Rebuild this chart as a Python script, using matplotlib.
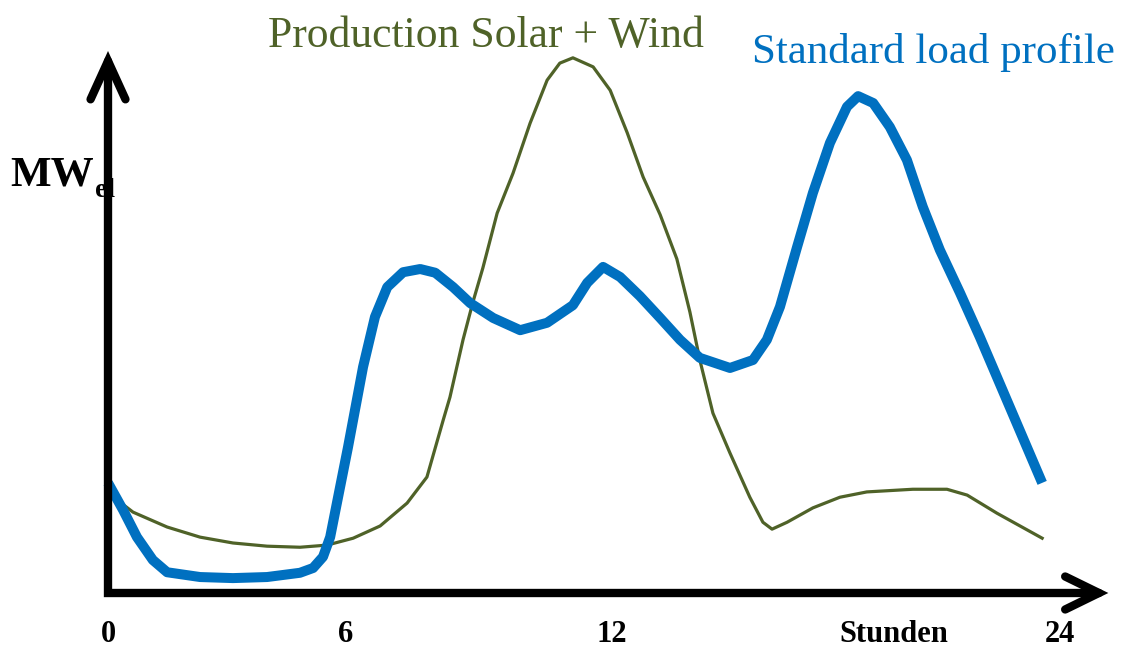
import matplotlib
matplotlib.use("Agg")
from matplotlib import pyplot as plt

# Lastprofil vs. Erzeugung (Stunden 0..24, MW in relativen Einheiten)
solar_wind_h = [0.00, 0.63, 1.49, 2.32, 3.15, 4.01, 4.84, 5.52, 6.18, 6.86,
                7.54, 8.04, 8.45, 8.62, 8.95, 9.20, 9.45, 9.81, 10.21, 10.64,
                11.07, 11.39, 11.72, 12.23, 12.66, 13.09, 13.49, 13.92, 14.34, 14.67,
                14.92, 15.25, 15.68, 16.18, 16.51, 16.74, 17.12, 17.77, 18.45, 19.13,
                20.29, 21.15, 21.66, 22.41, 23.55]
solar_wind_mw = [18.8, 15.2, 12.4, 10.5, 9.4, 8.8, 8.6, 9.0, 10.3, 12.6,
                 16.9, 21.8, 32.5, 36.8, 47.6, 54.7, 61.1, 71.4, 78.9, 88.3,
                 96.4, 99.6, 100.6, 98.9, 94.5, 86.5, 78.2, 71.1, 62.8, 52.8,
                 43.8, 33.8, 26.3, 18.0, 13.3, 12.0, 13.3, 16.0, 18.0, 19.0,
                 19.5, 19.5, 18.4, 15.0, 10.3]

load_h = [0.00, 0.38, 0.73, 1.13, 1.49, 2.32, 3.15, 4.01, 4.84, 5.17,
          5.42, 5.60, 5.85, 6.05, 6.43, 6.73, 7.04, 7.44, 7.87, 8.25,
          8.70, 9.13, 9.71, 10.39, 11.07, 11.72, 12.08, 12.48, 12.91, 13.41,
          13.92, 14.42, 14.92, 15.68, 16.26, 16.61, 16.94, 17.37, 17.77, 18.20,
          18.63, 18.91, 19.29, 19.71, 20.14, 20.54, 20.97, 21.48, 21.98, 22.41,
          23.55]
load_mw = [20.7, 15.6, 10.5, 6.2, 3.9, 3.0, 2.8, 3.0, 3.8, 4.7,
           6.8, 10.5, 19.9, 27.4, 42.5, 51.9, 57.5, 60.3, 60.9, 60.2,
           57.5, 54.5, 51.7, 49.4, 50.8, 54.1, 58.3, 61.3, 59.4, 55.8,
           51.7, 47.6, 44.2, 42.3, 43.8, 47.6, 53.8, 65.0, 75.2, 84.6,
           91.4, 93.4, 92.1, 87.6, 81.4, 72.6, 64.5, 56.4, 48.1, 40.6,
           20.7]

tick_labels = ["0", "6", "12", "Stunden", "24"]
tick_pos = [0, 6, 12.7, 19.8, 24]

green = "#4F6228"
blue = "#0070C0"
serif = ["Liberation Serif", "DejaVu Serif"]

fig = plt.figure(figsize=(11.28, 6.48), dpi=100)
ax = fig.add_axes([0, 0, 1, 1])
ax.set_xlim(-2.723, 25.714)
ax.set_ylim(-10.34, 111.47)
ax.axis("off")

ax.plot(solar_wind_h, solar_wind_mw, color=green, lw=2.3, solid_joinstyle="round", zorder=2)
ax.plot(load_h, load_mw, color=blue, lw=7.2, solid_joinstyle="round", solid_capstyle="butt", zorder=3)

# Achsen mit Pfeilspitzen
ax.plot([0, 0, 24.98], [100, 0, 0], color="black", lw=6, solid_joinstyle="miter",
        solid_capstyle="round", zorder=4)
ax.plot([-0.44, 0, 0.44], [92.8, 100, 92.8], color="black", lw=6,
        solid_capstyle="round", solid_joinstyle="miter", zorder=4)
ax.plot([24.13, 24.98, 24.13], [3.1, 0, -3.1], color="black", lw=6,
        solid_capstyle="round", solid_joinstyle="miter", zorder=4)

for p, lab in zip(tick_pos, tick_labels):
    ax.text(p, -9.2, lab, ha="center", va="baseline", fontsize=22,
            fontweight="bold", family=serif)

ax.text(268 / 1128, 1 - 47 / 648, "Production Solar + Wind", transform=ax.transAxes,
        color=green, fontsize=31.5, family=serif, va="baseline", ha="left")
ax.text(752 / 1128, 1 - 63 / 648, "Standard load profile", transform=ax.transAxes,
        color=blue, fontsize=31, family=serif, va="baseline", ha="left")
ax.text(10 / 1128, 1 - 186 / 648, "MW", transform=ax.transAxes, fontsize=31,
        fontweight="bold", family=serif, va="baseline", ha="left", zorder=1)
ax.text(95 / 1128, 1 - 197 / 648, "el", transform=ax.transAxes, fontsize=20,
        fontweight="bold", family=serif, va="baseline", ha="left", zorder=1)

fig.savefig("out.png", dpi=100)
